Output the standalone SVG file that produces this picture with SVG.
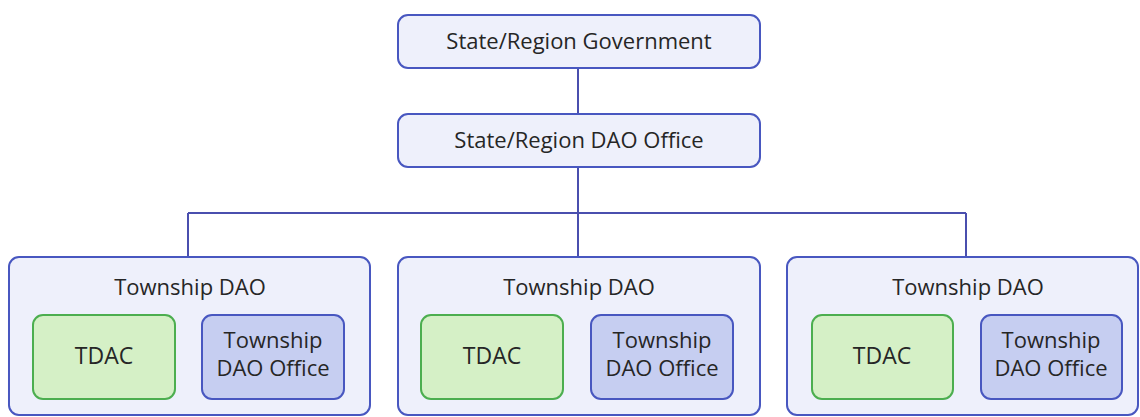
<svg xmlns="http://www.w3.org/2000/svg" width="1140" height="417" viewBox="0 0 1140 417">
<style>
text{font-family:"Open Sans","DejaVu Sans",sans-serif;fill:#262626;text-anchor:middle}
.top{fill:#eef0fb;stroke:#4857c0;stroke-width:2}
.outer{fill:#eef0fb;stroke:#4857c0;stroke-width:2}
.tdac{fill:#d5f0c6;stroke:#4cae4f;stroke-width:2}
.off{fill:#c6cef1;stroke:#4857c0;stroke-width:2}
.t1{font-size:22px}
.t2{font-size:22px}
.t3{font-size:23px}
.conn{stroke:#4a4fae;stroke-width:2;fill:none}
</style>
<rect width="1140" height="417" fill="#ffffff"/>
<g id="connectors">
<path class="conn" d="M578 68V114M578 167V257M188 213H966M188 213V257M966 213V257"/>
</g>
<g id="state-gov">
<rect class="top" x="398" y="15" width="362" height="53" rx="10"/>
<text class="t1" x="579" y="49">State/Region Government</text>
</g>
<g id="state-dao">
<rect class="top" x="398" y="114" width="362" height="53" rx="10"/>
<text class="t1" x="579" y="148">State/Region DAO Office</text>
</g>
<g id="township-1">
<rect class="outer" x="9" y="257" width="361" height="158" rx="10"/>
<text class="t2" x="190" y="295">Township DAO</text>
<rect class="tdac" x="33" y="315" width="142" height="84" rx="10"/>
<text class="t3" x="104" y="364">TDAC</text>
<rect class="off" x="202" y="315" width="142" height="84" rx="10"/>
<text class="t2" x="273" y="348">Township</text>
<text class="t2" x="273" y="376">DAO Office</text>
</g>
<g id="township-2">
<rect class="outer" x="398" y="257" width="362" height="158" rx="10"/>
<text class="t2" x="579" y="295">Township DAO</text>
<rect class="tdac" x="421" y="315" width="142" height="84" rx="10"/>
<text class="t3" x="492" y="364">TDAC</text>
<rect class="off" x="591" y="315" width="142" height="84" rx="10"/>
<text class="t2" x="662" y="348">Township</text>
<text class="t2" x="662" y="376">DAO Office</text>
</g>
<g id="township-3">
<rect class="outer" x="787" y="257" width="351" height="158" rx="10"/>
<text class="t2" x="968" y="295">Township DAO</text>
<rect class="tdac" x="812" y="315" width="141" height="84" rx="10"/>
<text class="t3" x="882" y="364">TDAC</text>
<rect class="off" x="981" y="315" width="141" height="84" rx="10"/>
<text class="t2" x="1051" y="348">Township</text>
<text class="t2" x="1051" y="376">DAO Office</text>
</g>
</svg>
